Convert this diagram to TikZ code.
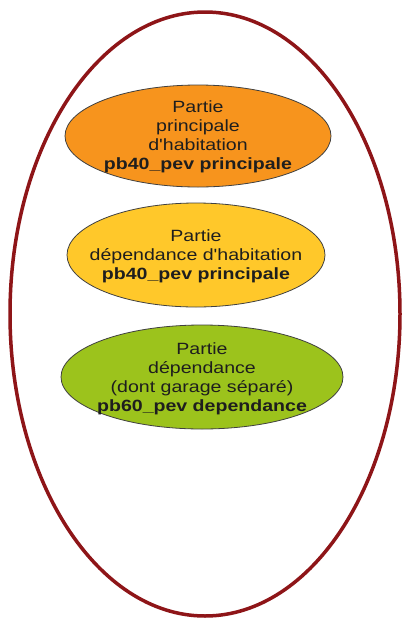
\documentclass[tikz,border=0pt]{standalone}
\usepackage{fontspec}
\setmainfont{Liberation Sans}[FakeStretch=1.2, Ligatures=TeXOff]
\definecolor{outerred}{HTML}{8E1518}
\definecolor{orangefill}{HTML}{F7941D}
\definecolor{yellowfill}{HTML}{FFC82A}
\definecolor{greenfill}{HTML}{9CC31C}
\definecolor{txt}{HTML}{1E1E1E}
\tikzset{
  part/.style={draw=black!75, line width=0.8pt},
  lbl/.style={align=center, text=txt, inner sep=0pt,
    font=\fontsize{16.3}{19}\selectfont}
}
\begin{document}
\begin{tikzpicture}[x=1pt,y=-1pt]
\useasboundingbox (0,0) rectangle (407,619);
\fill[white] (0,0) rectangle (407,619);
\draw[outerred, line width=3.5pt] (205,314) ellipse [x radius=195, y radius=302];
\draw[part, fill=orangefill] (198,136) ellipse [x radius=133, y radius=51];
\draw[part, fill=yellowfill] (196,255) ellipse [x radius=129, y radius=52];
\draw[part, fill=greenfill] (202,377) ellipse [x radius=141, y radius=52];
\node[lbl] (p1) at (198,137) {Partie\\principale\\d'habitation\\\textbf{pb40\_pev principale}};
\node[lbl] (p2) at (196,256) {Partie\\dépendance d'habitation\\\textbf{pb40\_pev principale}};
\node[lbl] (p3) at (202,379) {Partie\\dépendance\\(dont garage séparé)\\\textbf{pb60\_pev dependance}};
\end{tikzpicture}
\end{document}
